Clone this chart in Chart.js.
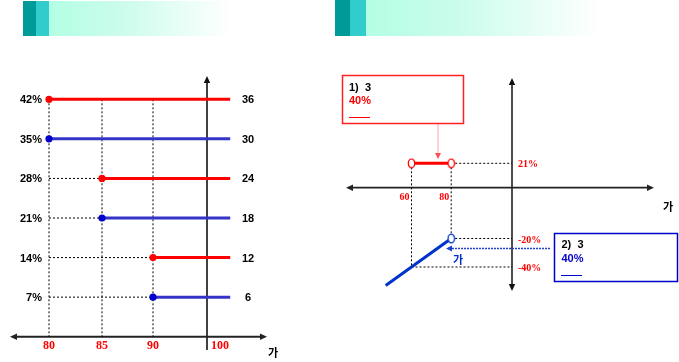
<!DOCTYPE html>
<html>
<head>
<meta charset="utf-8">
<script src="https://cdn.jsdelivr.net/npm/chart.js@4/dist/chart.umd.min.js"></script>
<style>
  html, body { margin: 0; padding: 0; background: #fff; }
  #wrap { position: relative; width: 679px; height: 362px; }
</style>
</head>
<body>
<div id="wrap"><canvas id="c"></canvas></div>
<script>
// ---------------- DATA ----------------
// Left panel
const leftStartX   = [80, 80, 85, 85, 90, 90];
const leftRates    = [42, 35, 28, 21, 14, 7];
const leftRateLbls = ['42%', '35%', '28%', '21%', '14%', '7%'];
const leftRightLbls= ['36', '30', '24', '18', '12', '6'];
const leftSeries   = ['red', 'blue', 'red', 'blue', 'red', 'blue'];
const leftXTicks   = [80, 85, 90, 100];
const leftLineEndX = 104.3;
const leftAxisX    = 100;

// Right panel
const rightSegX     = [60, 80];
const rightSegRate  = 21;
const rightBlueX    = [47, 80];
const rightBlueRate = [-53, -20];
const rightXTicks   = [60, 80];
const rightRates    = [21, -20, -40];
const rightRateLbls = ['21%', '-20%', '-40%'];
const rightAxisX    = 100;

// ---------------- SCALE (piecewise, schematic axes) ----------------
const scaleKnots = {
  xL: [[80, 49], [85, 102], [90, 153], [100, 207]],
  yL: [[0, 336.7], [42, 99.3]],
  xR: [[60, 411.5], [80, 451.2], [100, 512]],
  yR: [[-40, 267], [-20, 238.5], [0, 187.7], [21, 163.3]]
};
class PiecewiseScale extends Chart.LinearScale {
  getPixelForValue(value) {
    if (value === null || value === undefined || Number.isNaN(+value)) return NaN;
    const k = scaleKnots[this.id];
    let i = 0;
    while (i < k.length - 2 && value > k[i + 1][0]) i++;
    const a = k[i], b = k[i + 1];
    return a[1] + (value - a[0]) * (b[1] - a[1]) / (b[0] - a[0]);
  }
  getValueForPixel(pixel) {
    const k = scaleKnots[this.id];
    const dir = Math.sign(k[k.length - 1][1] - k[0][1]);
    let i = 0;
    while (i < k.length - 2 && (pixel - k[i + 1][1]) * dir > 0) i++;
    const a = k[i], b = k[i + 1];
    return a[0] + (pixel - a[1]) * (b[0] - a[0]) / (b[1] - a[1]);
  }
}
PiecewiseScale.id = 'piecewise';
PiecewiseScale.defaults = Chart.LinearScale.defaults;
Chart.register(PiecewiseScale);

// ---------------- STYLES ----------------
const COLORS = { red: '#ff0000', blue: '#3434c8', bluePt: '#0000cc', blue2: '#0033cc', blueTxt: '#0000cc' };
const SANS = '"Liberation Sans", Arial, sans-serif';
const SERIF = '"Liberation Serif", "Times New Roman", serif';
const KR = '"Noto Sans CJK KR", sans-serif';

function ellipseStyle(color) {
  const c = document.createElement('canvas');
  c.width = 9; c.height = 11;
  const g = c.getContext('2d');
  g.beginPath();
  g.ellipse(4.5, 5.5, 3.2, 4.4, 0, 0, Math.PI * 2);
  g.fillStyle = '#fff'; g.fill();
  g.lineWidth = 1.3; g.strokeStyle = color; g.stroke();
  return c;
}
const redEllipse = ellipseStyle('#ff0000');
const blueEllipse = ellipseStyle('#0033cc');

const guide = { borderColor: '#000', borderWidth: 1, borderDash: [2, 2], pointRadius: 0, showLine: true, fill: false, order: 2 };
const datasets = [];

// Left: main lines
leftRates.forEach((r, i) => {
  const col = leftSeries[i] === 'red' ? COLORS.red : COLORS.blue;
  const pcol = leftSeries[i] === 'red' ? COLORS.red : COLORS.bluePt;
  datasets.push({
    xAxisID: 'xL', yAxisID: 'yL', showLine: true, order: 1,
    data: [{ x: leftStartX[i], y: r }, { x: leftLineEndX, y: r }],
    borderColor: col, borderWidth: 3,
    pointRadius: [3.6, 0], pointBackgroundColor: pcol, pointBorderWidth: 0
  });
});
// Left: vertical guides
const topRate = Math.max(...leftRates);
[...new Set(leftStartX)].forEach(x => {
  datasets.push({ ...guide, xAxisID: 'xL', yAxisID: 'yL', data: [{ x, y: topRate }, { x, y: 0 }] });
});
// Left: horizontal guides
const minStart = Math.min(...leftStartX);
leftRates.forEach((r, i) => {
  if (leftStartX[i] > minStart) {
    datasets.push({ ...guide, xAxisID: 'xL', yAxisID: 'yL', data: [{ x: minStart, y: r }, { x: leftStartX[i], y: r }] });
  }
});

// Right: red segment
datasets.push({
  xAxisID: 'xR', yAxisID: 'yR', showLine: true, order: 1,
  data: rightSegX.map(x => ({ x, y: rightSegRate })),
  borderColor: COLORS.red, borderWidth: 3,
  pointStyle: redEllipse, pointRadius: 4
});
// Right: blue line
datasets.push({
  xAxisID: 'xR', yAxisID: 'yR', showLine: true, order: 1,
  data: rightBlueX.map((x, i) => ({ x, y: rightBlueRate[i] })),
  borderColor: COLORS.blue2, borderWidth: 3,
  pointStyle: blueEllipse, pointRadius: [0, 4]
});
// Right: guides
const rg = [
  [{ x: 60, y: 21 }, { x: 60, y: -40 }],
  [{ x: 80, y: 21 }, { x: 80, y: -20 }],
  [{ x: 80, y: 21 }, { x: rightAxisX, y: 21 }],
  [{ x: 80, y: -20 }, { x: rightAxisX, y: -20 }],
  [{ x: 60, y: -40 }, { x: rightAxisX, y: -40 }]
];
rg.forEach(d => datasets.push({ ...guide, xAxisID: 'xR', yAxisID: 'yR', data: d }));

// ---------------- DRAW HELPERS ----------------
function arrowHead(ctx, x, y, dir, color, len = 7, half = 3.2) {
  ctx.save();
  ctx.fillStyle = color;
  ctx.beginPath();
  if (dir === 'up') { ctx.moveTo(x, y); ctx.lineTo(x - half, y + len); ctx.lineTo(x + half, y + len); }
  if (dir === 'down') { ctx.moveTo(x, y); ctx.lineTo(x - half, y - len); ctx.lineTo(x + half, y - len); }
  if (dir === 'left') { ctx.moveTo(x, y); ctx.lineTo(x + len, y - half); ctx.lineTo(x + len, y + half); }
  if (dir === 'right') { ctx.moveTo(x, y); ctx.lineTo(x - len, y - half); ctx.lineTo(x - len, y + half); }
  ctx.closePath(); ctx.fill();
  ctx.restore();
}
function line(ctx, x0, y0, x1, y1, color, w, dash) {
  ctx.save();
  ctx.strokeStyle = color; ctx.lineWidth = w;
  ctx.setLineDash(dash || []);
  ctx.beginPath(); ctx.moveTo(x0, y0); ctx.lineTo(x1, y1); ctx.stroke();
  ctx.restore();
}
function text(ctx, s, x, y, font, color, align) {
  ctx.save();
  ctx.font = font; ctx.fillStyle = color;
  ctx.textAlign = align || 'left'; ctx.textBaseline = 'middle';
  ctx.fillText(s, x, y);
  ctx.restore();
}
function headerBar(ctx, x, y, h, w1, w2, gEnd) {
  ctx.fillStyle = '#009a99'; ctx.fillRect(x, y, w1, h);
  ctx.fillStyle = '#33cccc'; ctx.fillRect(x + w1, y, w2, h);
  const gx = x + w1 + w2;
  const g = ctx.createLinearGradient(gx, 0, gEnd, 0);
  g.addColorStop(0, '#b3ffe4');
  g.addColorStop(0.35, '#c8fcea');
  g.addColorStop(1, '#ffffff');
  ctx.fillStyle = g; ctx.fillRect(gx, y, gEnd - gx, h);
}

const decor = {
  id: 'decor',
  beforeDatasetsDraw(chart) {
    const ctx = chart.ctx;
    const s = chart.scales;
    ctx.save();
    // headers
    headerBar(ctx, 23, 1, 35, 13, 13, 232);
    headerBar(ctx, 335, 0, 36, 15, 16, 602);
    // left axes
    const lx = s.xL.getPixelForValue(leftAxisX), ly = s.yL.getPixelForValue(0);
    line(ctx, lx, 350, lx, 82, '#111', 1.6);
    arrowHead(ctx, lx, 76, 'up', '#111');
    line(ctx, 16, ly, 261, ly, '#222', 2);
    arrowHead(ctx, 10, ly, 'left', '#222');
    arrowHead(ctx, 267, ly, 'right', '#222');
    // right axes
    const rx = s.xR.getPixelForValue(rightAxisX), ry = s.yR.getPixelForValue(0);
    line(ctx, rx, 84, rx, 285, '#111', 1.5);
    arrowHead(ctx, rx, 78, 'up', '#111');
    arrowHead(ctx, rx, 291, 'down', '#111');
    line(ctx, 352, ry, 648, ry, '#222', 1.8);
    arrowHead(ctx, 346, ry, 'left', '#222');
    arrowHead(ctx, 654, ry, 'right', '#222');
    ctx.restore();
  },
  afterDatasetsDraw(chart) {
    const ctx = chart.ctx;
    const s = chart.scales;
    // left rate labels
    leftRates.forEach((r, i) => {
      const y = s.yL.getPixelForValue(r) + 1;
      text(ctx, leftRateLbls[i], 42, y, 'bold 11px ' + SANS, '#000', 'right');
      text(ctx, leftRightLbls[i], 248, y, 'bold 11px ' + SANS, '#000', 'center');
    });
    // left x tick labels
    leftXTicks.forEach(v => {
      const x = s.xL.getPixelForValue(v) + (v === leftAxisX ? 13 : 0);
      text(ctx, String(v), x, 346, 'bold 12px ' + SERIF, '#ff0000', 'center');
    });
    text(ctx, '가', 273, 353, 'bold 11px ' + KR, '#000', 'center');

    // right labels
    rightRates.forEach((r, i) => {
      text(ctx, rightRateLbls[i], 518, s.yR.getPixelForValue(r) + 1.5, 'bold 10px ' + SERIF, '#ff0000', 'left');
    });
    rightXTicks.forEach(v => {
      text(ctx, String(v), s.xR.getPixelForValue(v) - 2, 197, 'bold 10px ' + SERIF, '#ff0000', 'right');
    });
    text(ctx, '가', 668, 207, 'bold 11px ' + KR, '#000', 'center');
    text(ctx, '가', 458, 260, 'bold 11px ' + KR, COLORS.blue2, 'center');

    // red box
    ctx.save();
    ctx.strokeStyle = '#ff2020'; ctx.lineWidth = 1.5;
    ctx.strokeRect(342.5, 75.5, 121, 48);
    ctx.restore();
    text(ctx, '1)  3', 349, 87.5, 'bold 11px ' + SANS, '#000', 'left');
    text(ctx, '40%', 349, 100.5, 'bold 11px ' + SANS, '#ff0000', 'left');
    line(ctx, 349, 117.5, 370, 117.5, '#ff0000', 1);
    line(ctx, 438, 124.5, 438, 153, '#ff5050', 1, [1, 1]);
    arrowHead(ctx, 438, 159, 'down', '#ff5050', 6, 3);

    // blue box
    ctx.save();
    ctx.strokeStyle = '#0000cc'; ctx.lineWidth = 1.5;
    ctx.strokeRect(554.5, 233.5, 123, 48);
    ctx.restore();
    text(ctx, '2)  3', 561.5, 245, 'bold 11px ' + SANS, '#000', 'left');
    text(ctx, '40%', 561.5, 259, 'bold 11px ' + SANS, COLORS.blueTxt, 'left');
    line(ctx, 561, 275.5, 582, 275.5, '#0000cc', 1);
    line(ctx, 550, 248.5, 452, 248.5, '#2040d0', 1.5, [2, 1]);
    arrowHead(ctx, 446, 248.5, 'left', '#2040d0', 6, 3);
  }
};

new Chart(document.getElementById('c'), {
  type: 'scatter',
  data: { datasets },
  options: {
    responsive: true,
    maintainAspectRatio: false,
    animation: false,
    events: [],
    layout: { padding: 0 },
    plugins: { legend: { display: false }, tooltip: { enabled: false }, title: { display: false } },
    scales: {
      xL: { type: 'piecewise', axis: 'x', display: false },
      yL: { type: 'piecewise', axis: 'y', display: false },
      xR: { type: 'piecewise', axis: 'x', display: false },
      yR: { type: 'piecewise', axis: 'y', display: false }
    }
  },
  plugins: [decor]
});
</script>
</body>
</html>
